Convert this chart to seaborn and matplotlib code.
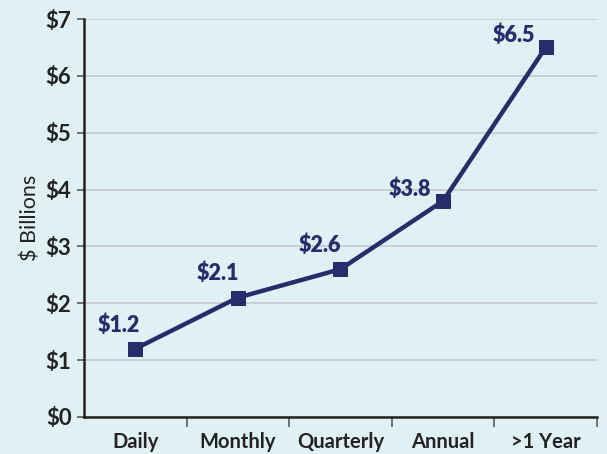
import matplotlib
matplotlib.use("Agg")
import matplotlib.pyplot as plt
import seaborn as sns
import pandas as pd

# Datos del gráfico
periodos = ["Daily", "Monthly", "Quarterly", "Annual", ">1 Year"]
valores = [1.2, 2.1, 2.6, 3.8, 6.5]
etiquetas = ["$1.2", "$2.1", "$2.6", "$3.8", "$6.5"]
y_ticks = [0, 1, 2, 3, 4, 5, 6, 7]

fondo = "#e0f1f6"
azul = "#252d6b"

sns.set_style("white")
plt.rcParams["font.family"] = ["Lato", "DejaVu Sans"]

df = pd.DataFrame({"periodo": periodos, "valor": valores})

fig = plt.figure(figsize=(6.07, 4.54), dpi=100, facecolor=fondo)
ax = fig.add_axes([0.1384, 0.0815, 0.845, 0.8765])
ax.set_facecolor(fondo)

sns.lineplot(data=df, x="periodo", y="valor", ax=ax, color=azul, linewidth=3.2,
             marker="s", markersize=10, markeredgecolor=azul, sort=False, zorder=3)

# Etiquetas de los puntos
desplaz = [(-16, 24), (-20, 24), (-21, 24), (-33, 12), (-32, 12)]
for i, (v, t) in enumerate(zip(valores, etiquetas)):
    ax.annotate(t, (i, v), xytext=desplaz[i], textcoords="offset pixels",
                ha="center", va="center", fontsize=15.5, fontweight="heavy", color=azul)

ax.set_xlim(-0.5, len(periodos) - 0.5)
ax.set_ylim(0, 7)
ax.set_yticks(y_ticks)
ax.set_yticklabels([f"${t}" for t in y_ticks], fontsize=16, fontweight="bold", color="#222222")
ax.set_xticks(range(len(periodos)))
ax.set_xticklabels(periodos, fontsize=14.5, fontweight="bold", color="#222222")
ax.set_xticks([i + 0.5 for i in range(len(periodos))], minor=True)
ax.tick_params(axis="x", which="major", bottom=False, length=0, pad=11)
ax.tick_params(axis="x", which="minor", bottom=True, length=7, width=1.3, color="#666666")
ax.tick_params(axis="y", which="major", left=True, length=5, width=1.3, color="#666666", pad=4)

ax.yaxis.grid(True, color="#c8c8c8", linewidth=1.2)
ax.set_axisbelow(True)

for lado in ["top", "right"]:
    ax.spines[lado].set_visible(False)
for lado in ["left", "bottom"]:
    ax.spines[lado].set_color("#222222")
    ax.spines[lado].set_linewidth(1.8)

ax.set_xlabel("")
ax.set_ylabel("$ Billions", fontsize=15.5, color="#222222", labelpad=4)

fig.savefig("out.png", dpi=100, facecolor=fondo)
